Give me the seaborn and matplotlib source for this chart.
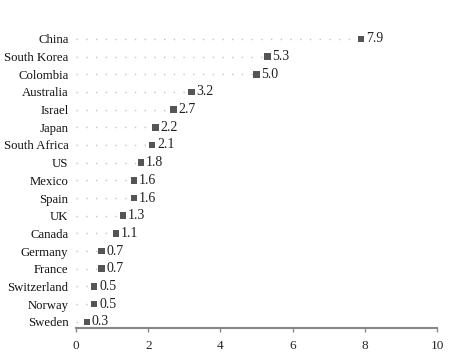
import numpy as np
import pandas as pd
import matplotlib
matplotlib.use("Agg")
import matplotlib.pyplot as plt
import seaborn as sns

countries = ["China", "South Korea", "Colombia", "Australia", "Israel", "Japan",
             "South Africa", "US", "Mexico", "Spain", "UK", "Canada", "Germany",
             "France", "Switzerland", "Norway", "Sweden"]
values = [7.9, 5.3, 5.0, 3.2, 2.7, 2.2, 2.1, 1.8, 1.6, 1.6, 1.3, 1.1, 0.7, 0.7, 0.5, 0.5, 0.3]
xticks = [0, 2, 4, 6, 8, 10]

df = pd.DataFrame({"country": countries, "value": values})

sns.set_style("white")
plt.rcParams["font.family"] = ["Liberation Serif", "DejaVu Serif"]

fig = plt.figure(figsize=(4.61, 3.62), dpi=100)
ax = fig.add_axes([0.165, 0.094, 0.783, 0.823])

pos = np.arange(len(countries))
ax.hlines(pos, 0, df["value"], colors="#c4c4c4", linestyles=(0, (1, 6)), linewidth=1.0)
sns.scatterplot(data=df, x="value", y="country", marker="s", s=22, color="#555555",
                edgecolor="none", ax=ax, zorder=3)

for i, v in enumerate(values):
    ax.text(v + 0.14, i, f"{v:.1f}", va="center", ha="left", fontsize=10, color="#222222")

ax.set_xlim(0, 10)
ax.set_ylim(16.35, -0.5)
ax.set_xticks(xticks)
ax.set_xticklabels([str(t) for t in xticks], fontsize=9.5)
ax.set_xlabel("")
ax.set_ylabel("")
ax.tick_params(axis="y", length=0, labelsize=9.2, pad=5.5, labelcolor="#111111")
ax.tick_params(axis="x", length=3, width=1, color="#888888", pad=6, bottom=True)
for s in ["top", "right", "left"]:
    ax.spines[s].set_visible(False)
ax.spines["bottom"].set_color("#888888")
ax.spines["bottom"].set_linewidth(1.5)

fig.savefig("out.png", dpi=100)
